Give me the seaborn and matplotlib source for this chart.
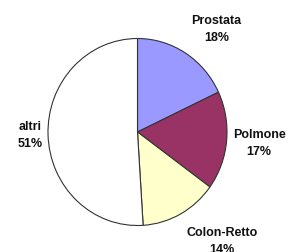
import matplotlib
matplotlib.use("Agg")
import matplotlib.pyplot as plt
import seaborn as sns

# data
labels = ["Prostata", "Polmone", "Colon-Retto", "altri"]
values = [18, 17, 14, 51]
colors = ["#9999FF", "#993366", "#FFFFCC", "#FFFFFF"]
# label centres, in pie-radius units
label_pos = [(0.88, 1.11), (1.36, -0.11), (0.94, -1.16), (-1.20, -0.03)]

sns.set_theme(style="white")
plt.rcParams['font.family'] = ['Liberation Sans', 'DejaVu Sans']

fig = plt.figure(figsize=(2.89, 2.53), dpi=100)
ax = fig.add_axes([0, 0, 1, 1])

wedges, texts = ax.pie(
    values, colors=colors, startangle=90, counterclock=False,
    labels=[f"{l}\n{v}%" for l, v in zip(labels, values)],
    wedgeprops=dict(edgecolor="#333333", linewidth=0.8),
    textprops=dict(fontsize=9, fontweight="bold", color="#111111"),
)

for t, p in zip(texts, label_pos):
    t.set_position(p)
    t.set_ha("center")
    t.set_va("center")
    t.set_linespacing(1.55)

# slightly tall ellipse as in the reference
ax.set_aspect("auto")
cx, cy, rx, ry = 137.5, 133.0, 89.5, 93.5
ax.set_xlim(-cx / rx, (289 - cx) / rx)
ax.set_ylim((cy - 253) / ry, cy / ry)
ax.axis("off")

fig.savefig("out.png", dpi=100)
